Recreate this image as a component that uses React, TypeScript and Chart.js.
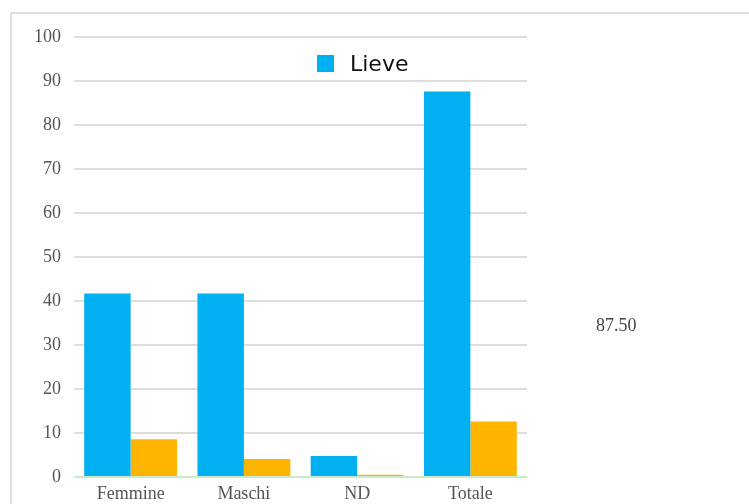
import React, { useEffect, useRef } from "react";
import { Chart, registerables } from "chart.js";

Chart.register(...registerables);

const categories = ["Femmine", "Maschi", "ND", "Totale"];
const lieveValues = [41.7, 41.7, 4.8, 87.6];
const secondValues = [8.6, 4.1, 0.5, 12.6];
const yTicks = [0, 10, 20, 30, 40, 50, 60, 70, 80, 90, 100];
const legendLabel = "Lieve";
const sideLabel = "87.50";

export default function App() {
  const ref = useRef<HTMLCanvasElement | null>(null);

  useEffect(() => {
    if (!ref.current) return;
    const legendPlugin = {
      id: "customLegend",
      afterDraw(chart: any) {
        const ctx = chart.ctx;
        ctx.save();
        ctx.fillStyle = "#00b0f0";
        ctx.fillRect(317, 55, 17, 17);
        ctx.fillStyle = "#111";
        ctx.font = "22px 'DejaVu Sans'";
        ctx.textBaseline = "middle";
        ctx.textAlign = "left";
        ctx.fillText(legendLabel, 350, 65);
        ctx.restore();
      },
    };
    const chart = new Chart(ref.current, {
      type: "bar",
      data: {
        labels: categories,
        datasets: [
          {
            label: legendLabel,
            data: lieveValues,
            backgroundColor: "#00b0f0",
            categoryPercentage: 0.82,
            barPercentage: 1,
          },
          {
            label: "",
            data: secondValues,
            backgroundColor: "#ffb400",
            categoryPercentage: 0.82,
            barPercentage: 1,
          },
        ],
      },
      options: {
        animation: false,
        responsive: false,
        maintainAspectRatio: false,
        layout: { padding: { left: 0, right: 222, top: 37, bottom: 0 } },
        plugins: {
          legend: { display: false },
          tooltip: { enabled: false },
        },
        scales: {
          x: {
            grid: { display: false, drawTicks: false },
            border: { display: false },
            ticks: {
              color: "#555",
              font: { family: "'Liberation Serif', serif", size: 18 },
              padding: 6,
            },
            afterFit: (s: any) => {
              s.height = 27;
            },
          },
          y: {
            min: 0,
            max: 100,
            afterBuildTicks: (s: any) => {
              s.ticks = yTicks.map((v) => ({ value: v }));
            },
            grid: {
              drawTicks: false,
              lineWidth: 2,
              color: (c: any) => (c.tick && c.tick.value === 0 ? "#c8ecc8" : "#dedede"),
            },
            border: { display: false },
            ticks: {
              color: "#555",
              font: { family: "'Liberation Serif', serif", size: 18 },
              padding: 13,
            },
            afterFit: (s: any) => {
              s.width = 74;
            },
          },
        },
      },
      plugins: [legendPlugin],
    });
    return () => chart.destroy();
  }, []);

  return (
    <div style={{ position: "absolute", left: 0, top: 0, width: 749, height: 504, overflow: "hidden", background: "#fff" }}>
      <div
        style={{
          position: "absolute",
          left: 10,
          top: 12,
          width: 780,
          height: 540,
          border: "2px solid #e0e0e0",
          boxSizing: "border-box",
        }}
      />
      <canvas ref={ref} width={749} height={504} style={{ position: "absolute", left: 0, top: 0, width: 749, height: 504 }} />
      <div
        style={{
          position: "absolute",
          left: 596,
          top: 314,
          fontFamily: "'Liberation Serif', serif",
          fontSize: 18,
          color: "#444",
          lineHeight: "22px",
        }}
      >
        {sideLabel}
      </div>
    </div>
  );
}
